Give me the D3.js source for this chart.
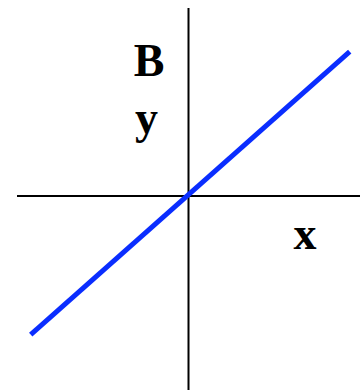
<!DOCTYPE html>
<html>
<head>
<meta charset="utf-8">
<script src="https://cdn.jsdelivr.net/npm/d3@7"></script>
<style>
  body { margin: 0; background: #fff; }
  text { font-family: "Liberation Serif", "Times New Roman", serif; font-weight: bold; }
</style>
</head>
<body>
<div id="visual"></div>
<script>
// line endpoints in data units (axes cross at 0,0)
var lineX = [-0.92, 0.94];
var lineY = [-0.73, 0.76];
var labels = ["B", "y", "x"];

var width = 360, height = 390;

var svg = d3.select("#visual").append("svg")
    .attr("width", width)
    .attr("height", height);

var x = d3.scaleLinear()
    .domain([-1, 1])
    .range([17, 360]);

var y = d3.scaleLinear()
    .domain([-1, 1])
    .range([386, 6]);

// axes
svg.append("line")
    .attr("x1", x(-1)).attr("x2", x(1))
    .attr("y1", y(0)).attr("y2", y(0))
    .attr("stroke", "#000")
    .attr("stroke-width", 2);

svg.append("line")
    .attr("x1", x(0)).attr("x2", x(0))
    .attr("y1", y(0.99)).attr("y2", height)
    .attr("stroke", "#000")
    .attr("stroke-width", 2);

var line = d3.line()
    .x(function (d) { return x(d[0]); })
    .y(function (d) { return y(d[1]); });

svg.append("path")
    .datum(d3.zip(lineX, lineY))
    .attr("d", line)
    .attr("fill", "none")
    .attr("stroke", "#0a2dff")
    .attr("stroke-width", 5);

svg.append("text")
    .attr("x", x(-0.23)).attr("y", y(0.63))
    .attr("text-anchor", "middle")
    .attr("font-size", 46)
    .text(labels[0]);

svg.append("text")
    .attr("x", x(-0.245)).attr("y", y(0.33))
    .attr("text-anchor", "middle")
    .attr("font-size", 46)
    .text(labels[1]);

svg.append("text")
    .attr("x", x(0.68)).attr("y", y(-0.28))
    .attr("text-anchor", "middle")
    .attr("font-size", 46)
    .text(labels[2]);
</script>
</body>
</html>
